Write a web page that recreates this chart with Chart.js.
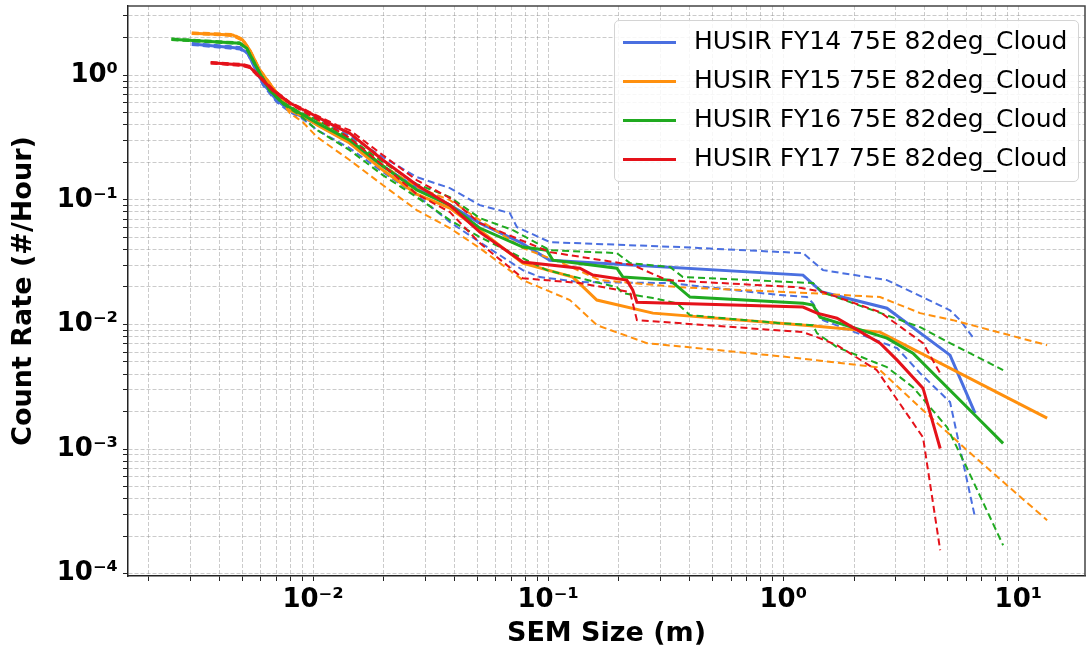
<!DOCTYPE html>
<html lang="en">
  <head>
    <meta charset="UTF-8" />
    <script src="https://cdn.jsdelivr.net/npm/chart.js@4.4.0/dist/chart.umd.min.js"></script>
    <title>HUSIR 75E 82deg cloud</title>
    <style>
      body {
        margin: 0;
        padding: 0;
        background: #fff;
      }

      .wrap {
        position: relative;
        width: 1086px;
        height: 652px;
      }

      #legend {
        position: absolute;
        left: 614px;
        top: 20px;
        width: 465px;
        height: 162px;
        box-sizing: border-box;
        border: 1px solid #d4d4d4;
        border-radius: 5px;
        background: rgba(255, 255, 255, 0.85);
        font-family: 'DejaVu Sans', sans-serif;
        font-size: 25px;
        color: #000;
      }

      #legend .row {
        height: 39px;
        line-height: 39px;
        white-space: nowrap;
      }

      #legend .swatch {
        display: inline-block;
        width: 53px;
        height: 3px;
        margin: 0 18px 0 8px;
        vertical-align: middle;
      }
    </style>
  </head>
  <body>
    <div class="wrap">
      <canvas id="chart" width="1086" height="652"></canvas>
      <div id="legend"></div>
    </div>
    <script>
      // [size (m), count rate (#/hour)]
      const fy14Mid = [[3.05e-3,1.784],[4.88e-3,1.648],[5.27e-3,1.51],[6.11e-3,0.867],[7.0e-3,0.633],[7.96e-3,0.526],[9.04e-3,0.462],[0.0104,0.406],[0.0143,0.291],[0.0198,0.187],[0.0276,0.124],[0.0382,0.0908],[0.0512,0.0651],[0.0758,0.0458],[0.1017,0.0328],[1.213,0.0249],[1.461,0.0182],[2.76,0.0135],[5.12,0.00567],[6.54,0.00194]]
      const fy14Hi = [[3.05e-3,1.817],[4.88e-3,1.688],[5.27e-3,1.538],[6.11e-3,0.884],[7.0e-3,0.645],[7.96e-3,0.536],[9.04e-3,0.48],[0.0104,0.454],[0.0143,0.3255],[0.0198,0.221],[0.0276,0.1524],[0.0382,0.1244],[0.0512,0.0908],[0.0687,0.0783],[0.0736,0.0605],[0.1017,0.0458],[0.3635,0.0418],[1.213,0.0374],[1.475,0.0273],[2.76,0.0227],[5.12,0.013],[5.65,0.01083],[6.54,0.00748]]
      const fy14Lo = [[3.05e-3,1.752],[4.88e-3,1.612],[5.27e-3,1.483],[6.11e-3,0.836],[7.0e-3,0.61],[7.96e-3,0.507],[9.04e-3,0.446],[0.0104,0.3636],[0.0143,0.2607],[0.0198,0.1672],[0.0276,0.1093],[0.0382,0.0663],[0.0512,0.0458],[0.078,0.0273],[0.0922,0.024],[0.1364,0.0219],[0.33,0.0215],[0.968,0.0172],[1.261,0.0166],[1.338,0.0148],[1.475,0.01083],[3.05,0.00645],[3.82,0.00406],[5.12,0.00238],[6.54,0.000283]]

      const fy15Mid = [[3.05e-3,2.175],[4.55e-3,2.107],[5.02e-3,1.92],[5.38e-3,1.597],[5.93e-3,1.103],[7.0e-3,0.721],[7.96e-3,0.526],[9.04e-3,0.471],[0.0104,0.399],[0.0143,0.2859],[0.0198,0.1735],[0.0276,0.1113],[0.0382,0.0859],[0.0512,0.0572],[0.078,0.0311],[0.1274,0.024],[0.1611,0.0157],[0.279,0.01233],[0.968,0.01024],[1.391,0.00969],[2.58,0.00868],[13.25,0.00177]]
      const fy15Hi = [[3.05e-3,2.21],[4.55e-3,2.147],[5.02e-3,1.957],[5.38e-3,1.626],[5.93e-3,1.124],[7.0e-3,0.734],[7.96e-3,0.546],[9.04e-3,0.489],[0.0104,0.4295],[0.0143,0.302],[0.0198,0.19],[0.0276,0.1267],[0.0382,0.0996],[0.0512,0.0688],[0.078,0.041],[0.1121,0.0317],[0.166,0.0227],[0.3635,0.0199],[1.338,0.0178],[2.58,0.0166],[3.82,0.01233],[5.27,0.01083],[13.25,0.00682]]
      const fy15Lo = [[3.05e-3,2.147],[4.55e-3,2.07],[5.02e-3,1.886],[5.38e-3,1.567],[5.93e-3,1.083],[7.0e-3,0.695],[7.96e-3,0.498],[9.04e-3,0.4215],[0.0104,0.3194],[0.0143,0.209],[0.0198,0.1315],[0.0276,0.0828],[0.0382,0.0594],[0.0512,0.041],[0.078,0.0227],[0.1237,0.0157],[0.1611,0.00987],[0.263,0.00708],[0.968,0.00556],[2.5,0.00454],[3.93,0.00205],[6.05,0.000978],[13.25,0.000268]]

      const fy16Mid = [[2.5e-3,1.946],[4.88e-3,1.807],[5.22e-3,1.648],[5.93e-3,1.043],[6.54e-3,0.762],[7.43e-3,0.599],[8.78e-3,0.498],[0.0104,0.414],[0.0143,0.302],[0.0198,0.187],[0.0276,0.1199],[0.0382,0.0908],[0.0512,0.0594],[0.078,0.0418],[0.0987,0.0395],[0.1047,0.0328],[0.196,0.0283],[0.208,0.024],[0.33,0.0227],[0.401,0.0166],[1.213,0.0148],[1.338,0.0143],[1.433,0.01145],[2.76,0.00776],[3.56,0.00588],[6.67,0.0018],[8.61,0.00111]]
      const fy16Hi = [[2.5e-3,1.975],[4.88e-3,1.834],[5.22e-3,1.672],[5.93e-3,1.063],[6.54e-3,0.776],[7.43e-3,0.61],[8.78e-3,0.507],[0.0104,0.4375],[0.0143,0.314],[0.0198,0.201],[0.0276,0.1339],[0.0382,0.1053],[0.0512,0.0714],[0.0708,0.0572],[0.1017,0.0395],[0.196,0.0374],[0.223,0.0311],[0.33,0.0289],[0.374,0.024],[1.338,0.0215],[1.461,0.0182],[3.82,0.00951],[5.12,0.00708],[8.61,0.0043]]
      const fy16Lo = [[2.5e-3,1.92],[4.88e-3,1.784],[5.22e-3,1.626],[5.93e-3,1.024],[6.54e-3,0.748],[7.43e-3,0.588],[8.78e-3,0.48],[0.0104,0.3636],[0.0143,0.251],[0.0198,0.158],[0.0276,0.1053],[0.0382,0.0688],[0.0512,0.0503],[0.0987,0.0273],[0.196,0.0199],[0.208,0.0178],[0.279,0.0163],[0.353,0.0148],[0.401,0.01188],[0.968,0.01024],[1.338,0.00987],[1.391,0.00851],[1.692,0.00657],[2.76,0.00454],[3.56,0.00314],[4.97,0.0015],[6.05,0.000701],[8.61,0.000169]]

      const fy17Mid = [[3.67e-3,1.262],[5.02e-3,1.21],[5.38e-3,1.166],[5.93e-3,0.969],[6.74e-3,0.762],[7.96e-3,0.599],[9.68e-3,0.498],[0.0126,0.384],[0.0143,0.344],[0.0198,0.209],[0.0276,0.1315],[0.0382,0.0908],[0.0512,0.0551],[0.078,0.0317],[0.1364,0.0283],[0.1549,0.0249],[0.216,0.0227],[0.229,0.0189],[0.2385,0.0151],[1.213,0.0138],[1.391,0.01233],[1.692,0.01123],[2.58,0.00708],[3.05,0.00517],[3.93,0.00308],[4.65,0.00101]]
      const fy17Hi = [[3.67e-3,1.279],[5.02e-3,1.232],[5.38e-3,1.188],[5.93e-3,0.987],[6.74e-3,0.776],[7.96e-3,0.61],[9.68e-3,0.507],[0.0126,0.399],[0.0143,0.3636],[0.0198,0.229],[0.0276,0.1442],[0.0382,0.1034],[0.0512,0.0651],[0.1017,0.0381],[0.229,0.03],[0.32,0.0227],[1.144,0.0199],[1.475,0.0182],[2.58,0.01256],[3.93,0.00708],[4.65,0.00406]]
      const fy17Lo = [[3.67e-3,1.244],[5.02e-3,1.188],[5.38e-3,1.144],[5.93e-3,0.951],[6.74e-3,0.748],[7.96e-3,0.588],[9.68e-3,0.48],[0.0126,0.3636],[0.0143,0.314],[0.0198,0.19],[0.0276,0.1113],[0.0382,0.0798],[0.0512,0.045],[0.0708,0.0273],[0.078,0.0235],[0.1364,0.0215],[0.223,0.0182],[0.2385,0.01083],[1.213,0.00868],[1.391,0.00791],[1.692,0.00682],[2.5,0.0043],[3.93,0.00124],[4.65,0.000154]]

      const seriesNames = ['HUSIR FY14 75E 82deg_Cloud', 'HUSIR FY15 75E 82deg_Cloud', 'HUSIR FY16 75E 82deg_Cloud', 'HUSIR FY17 75E 82deg_Cloud']
      const midLines = [fy14Mid, fy15Mid, fy16Mid, fy17Mid]
      const hiLines = [fy14Hi, fy15Hi, fy16Hi, fy17Hi]
      const loLines = [fy14Lo, fy15Lo, fy16Lo, fy17Lo]
      const colors = ['#4a6fe0', '#ff900e', '#20aa20', '#e5121a']

      // decades shown on each axis; grid at 1..9 x 10^n
      const xDecades = [-3, -2, -1, 0, 1]
      const yDecades = [-5, -4, -3, -2, -1, 0]
      const steps = [1, 2, 3, 4, 5, 6, 7, 8, 9]

      const xRange = [1.633e-3, 19.2]
      const yRange = [9.57e-5, 3.6]

      const sup = { '-': '\u207b', 0: '\u2070', 1: '\u00b9', 2: '\u00b2', 3: '\u00b3', 4: '\u2074', 5: '\u2075' }
      const powLabel = (value) => {
        const e = Math.log10(value)
        if (Math.abs(e - Math.round(e)) > 1e-6) return ''
        return '10' + String(Math.round(e)).split('').map((c) => sup[c]).join('')
      }

      const decadeTicks = (decades, range) => (axis) => {
        const list = []
        decades.forEach((d) => {
          steps.forEach((s) => {
            const v = s * Math.pow(10, d)
            if (v >= range[0] && v <= range[1]) list.push({ value: v, major: s === 1 })
          })
        })
        axis.ticks = list
      }

      const datasets = []
      seriesNames.forEach((name, i) => {
        datasets.push({ label: name, data: midLines[i], borderColor: colors[i], borderWidth: 3, inLegend: true, order: 40 - i * 3 })
        datasets.push({ label: name + ' upper', data: hiLines[i], borderColor: colors[i], borderWidth: 2, borderDash: [7, 4], order: 39 - i * 3 })
        datasets.push({ label: name + ' lower', data: loLines[i], borderColor: colors[i], borderWidth: 2, borderDash: [7, 4], order: 38 - i * 3 })
      })

      const htmlLegend = {
        id: 'htmlLegend',
        afterUpdate(chart) {
          const box = document.getElementById('legend')
          box.innerHTML = ''
          chart.data.datasets.forEach((ds) => {
            if (!ds.inLegend) return
            const row = document.createElement('div')
            row.className = 'row'
            const swatch = document.createElement('span')
            swatch.className = 'swatch'
            swatch.style.background = ds.borderColor
            const text = document.createElement('span')
            text.textContent = ds.label
            row.append(swatch, text)
            box.append(row)
          })
        },
      }

      // top and right spines
      const frame = {
        id: 'frame',
        afterDatasetsDraw(chart) {
          const { ctx, chartArea: a } = chart
          ctx.save()
          ctx.strokeStyle = '#444'
          ctx.lineWidth = 1.5
          ctx.beginPath()
          ctx.moveTo(a.left, a.top)
          ctx.lineTo(a.right, a.top)
          ctx.lineTo(a.right, a.bottom)
          ctx.stroke()
          ctx.restore()
        },
      }

      const tickFont = { family: "'DejaVu Sans'", size: 26, weight: 'bold' }
      const titleFont = { family: "'DejaVu Sans'", size: 27, weight: 'bold' }
      const gridOpts = {
        color: 'rgba(140, 140, 140, 0.45)',
        lineWidth: 1,
        tickLength: 5,
        tickColor: '#222',
        tickWidth: 1,
      }
      const borderOpts = { color: '#222', width: 1.5, dash: [4, 2] }

      new Chart(document.getElementById('chart'), {
        type: 'line',
        data: { datasets },
        plugins: [htmlLegend, frame],
        options: {
          responsive: false,
          animation: false,
          devicePixelRatio: 1,
          layout: { padding: { top: 6, right: 1, left: 0, bottom: 0 } },
          elements: {
            point: { radius: 0 },
            line: { tension: 0, fill: false },
          },
          plugins: {
            legend: { display: false },
            tooltip: { enabled: false },
          },
          scales: {
            x: {
              type: 'logarithmic',
              min: xRange[0],
              max: xRange[1],
              afterBuildTicks: decadeTicks(xDecades, xRange),
              afterFit: (s) => {
                s.height = 76
                s.paddingLeft = 0
                s.paddingRight = 0
              },
              grid: gridOpts,
              border: borderOpts,
              ticks: {
                autoSkip: false,
                maxRotation: 0,
                padding: 4,
                color: '#000',
                font: tickFont,
                callback: (v) => powLabel(v),
              },
              title: {
                display: true,
                text: 'SEM Size (m)',
                color: '#000',
                font: titleFont,
                padding: { top: 0, bottom: 2 },
              },
            },
            y: {
              type: 'logarithmic',
              min: yRange[0],
              max: yRange[1],
              afterBuildTicks: decadeTicks(yDecades, yRange),
              afterFit: (s) => {
                s.width = 128
                s.paddingTop = 0
                s.paddingBottom = 0
              },
              grid: gridOpts,
              border: borderOpts,
              ticks: {
                autoSkip: false,
                padding: 5,
                color: '#000',
                font: tickFont,
                callback: (v) => powLabel(v),
              },
              title: {
                display: true,
                text: 'Count Rate (#/Hour)',
                color: '#000',
                font: titleFont,
                padding: { top: 8, bottom: 0 },
              },
            },
          },
        },
      })
    </script>
  </body>
</html>
